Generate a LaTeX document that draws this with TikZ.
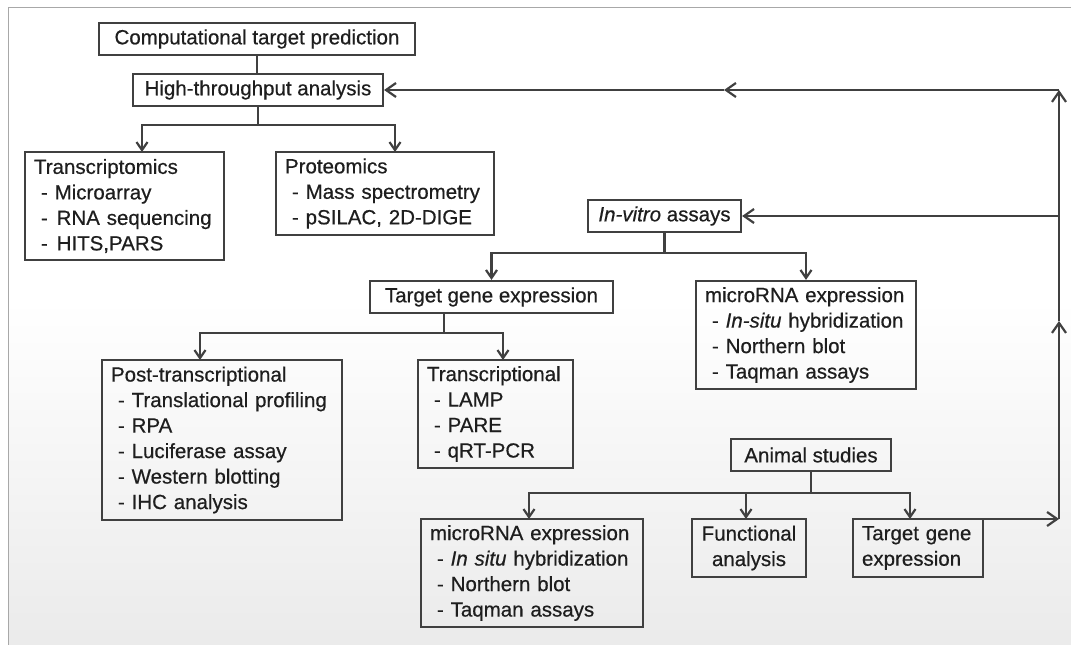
\documentclass[tikz,border=0pt]{standalone}
\usepackage{fontspec}
\setmainfont{Liberation Sans}[
  BoldFont=Liberation Sans, BoldFeatures={FakeBold=0.5},
  BoldItalicFont=Liberation Sans Italic, BoldItalicFeatures={FakeBold=0.5}]
\usetikzlibrary{arrows.meta}
\definecolor{ln}{HTML}{404040}
\definecolor{tx}{HTML}{1E1E1E}
\definecolor{fr}{HTML}{A8A8A8}
\newcommand{\dashitem}{\hspace*{7pt}-\ }
\begin{document}
\begin{tikzpicture}[x=1pt,y=-1pt,
  font=\fontsize{20.5}{25.5}\selectfont\bfseries,
  bx/.style={draw=ln, text=tx, line width=2.2pt, inner xsep=9pt, inner ysep=2pt, align=left},
  cbx/.style={bx, align=center},
  conn/.style={draw=ln, line width=2.2pt},
  sarr/.style={conn, -{Straight Barb[length=8pt,width=11pt]}},
  barr/.style={conn, -{Straight Barb[length=10pt,width=14pt]}}]
\useasboundingbox (0,0) rectangle (1071,645);
% background and frame
\fill[white] (0,0) rectangle (1071,645);
\shade[top color=white, bottom color=black!8] (8,300) rectangle (1071,645);
\draw[fr, line width=1pt] (8,645) -- (8,7) -- (1071,7);

% boxes
\node[cbx, minimum width=316pt, minimum height=32pt] (comp) at (257,39) {Computational target prediction};
\node[cbx, minimum width=250pt, minimum height=32pt] (ht) at (258,90) {High-throughput analysis};
\node[bx, text width=181pt, minimum height=108pt] (tr) at (124.5,206)
  {Transcriptomics\\\dashitem Microarray\\\dashitem\kern2pt RNA sequencing\\\dashitem\kern2pt HITS,PARS};
\node[bx, text width=200pt, minimum height=83pt] (pr) at (385,193.5)
  {Proteomics\\\dashitem Mass spectrometry\\\dashitem pSILAC, 2D-DIGE};
\node[cbx, minimum width=153pt, minimum height=32pt] (iv) at (664.5,216) {\textit{In-vitro} assays};
\node[cbx, minimum width=243pt, minimum height=32pt] (tg) at (491.5,297) {Target gene expression};
\node[bx, text width=202pt, minimum height=108pt] (mu) at (806,335)
  {microRNA expression\\\dashitem\textit{In-situ} hybridization\\\dashitem Northern blot\\\dashitem Taqman assays};
\node[bx, text width=222pt, minimum height=160pt] (pt) at (222,440)
  {Post-transcriptional\\\dashitem Translational profiling\\\dashitem RPA\\\dashitem Luciferase assay\\\dashitem Western blotting\\\dashitem IHC analysis};
\node[bx, text width=137pt, minimum height=108pt] (tc) at (495.5,414)
  {Transcriptional\\\dashitem LAMP\\\dashitem PARE\\\dashitem qRT-PCR};
\node[cbx, minimum width=160pt, minimum height=32pt] (an) at (811,455) {Animal studies};
\node[bx, text width=204pt, minimum height=108pt] (ml) at (532,573)
  {microRNA expression\\\dashitem\textit{In situ} hybridization\\\dashitem Northern blot\\\dashitem Taqman assays};
\node[cbx, inner xsep=4pt, text width=106pt, minimum height=58pt] (fa) at (749,548) {Functional\\analysis};
\node[bx, inner xsep=9pt, text width=112pt, minimum height=58pt] (tg2) at (918,548) {Target gene\\expression};

% tree connectors
\draw[conn] (comp.south) -- (comp.south |- ht.north);
\coordinate (trin) at (142,152);
\coordinate (prin) at (395,152);
\draw[sarr] (ht.south) -- ++(0,18) -| (trin);
\draw[sarr] (ht.south) -- ++(0,18) -| (prin);

\draw[sarr] (iv.south) -- ++(0,20) -| (tg.north);
\draw[sarr] (iv.south) -- ++(0,20) -| (mu.north);

\coordinate (tgout) at (444,313);
\coordinate (ptin) at (200,360);
\coordinate (tcin) at (503,360);
\draw[sarr] (tgout) -- ++(0,20) -| (ptin);
\draw[sarr] (tgout) -- ++(0,20) -| (tcin);

\coordinate (mlin) at (529,519);
\coordinate (fain) at (746,519);
\coordinate (tg2in) at (910,519);
\draw[sarr] (an.south) -- ++(0,21) -| (mlin);
\draw[sarr] (an.south) -- ++(0,21) -| (fain);
\draw[sarr] (an.south) -- ++(0,21) -| (tg2in);

% feedback loop
\coordinate (r1) at (1059,519);
\coordinate (r2) at (1059,321);
\coordinate (r3) at (1059,90);
\coordinate (r4) at (724,90);
\coordinate (r5) at (1059,216);
\draw[barr] (tg2.east |- r1) -- (r1);
\draw[barr] (r1) -- (r2);
\draw[barr] (r2) -- (r3);
\draw[barr] (r3) -- (r4);
\draw[barr] (r4) -- (ht.east);
\draw[barr] (r5) -- (iv.east);
\end{tikzpicture}
\end{document}
